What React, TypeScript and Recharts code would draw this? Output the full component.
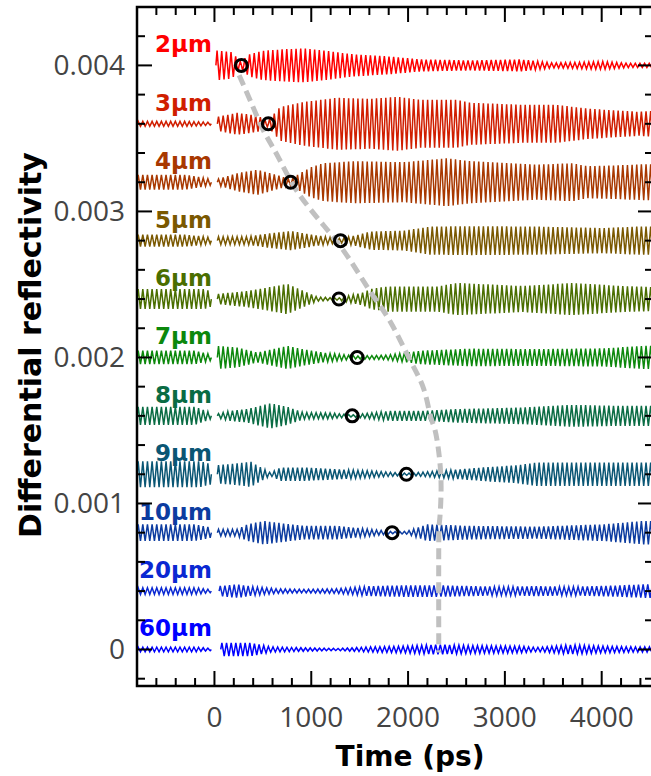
import React from 'react';
import { ComposedChart, Line, Scatter, XAxis, YAxis, ReferenceArea } from 'recharts';

// oscillation period of the Brillouin signal (ps)
const PERIOD = 48;
// envelope amplitudes below are in units of 1e-5
const AMP_UNIT = 1e-5;

const thicknesses = ['2µm', '3µm', '4µm', '5µm', '6µm', '7µm', '8µm', '9µm', '10µm', '20µm', '60µm'];
const offsets = [0.004, 0.0036, 0.0032, 0.0028, 0.0024, 0.002, 0.0016, 0.0012, 0.0008, 0.0004, 0];
const colors = ['#ff0000', '#d01e00', '#a83800', '#7a5800', '#4a6e00', '#0c880c', '#0a6c44', '#0a5674', '#0c3ca0', '#0a28d2', '#0000ff'];

// [time ps, amplitude] envelope before t=0 (empty = trace starts at 0)
const preEnvelopes: number[][][] = [
  [],
  [[-800, 1.7], [-300, 1.7], [-100, 1.2], [-30, 0.8]],
  [[-800, 5.1], [-300, 5.1], [-150, 3.4], [-30, 2]],
  [[-800, 4.1], [-300, 4.1], [-100, 2.7], [-30, 2]],
  [[-800, 6.8], [-100, 6.8], [-30, 5]],
  [[-800, 4.6], [-200, 4.6], [-30, 2]],
  [[-800, 6.2], [-200, 6.2], [-30, 2]],
  [[-800, 8.9], [-150, 8.9], [-30, 6.8]],
  [[-800, 5.7], [-200, 5.7], [-30, 3.4]],
  [[-800, 2.3], [-200, 2.3], [-30, 1]],
  [[-800, 1.6], [-200, 1.6], [-30, 0.8]],
];

// [time ps, amplitude] envelope after t=0
const postEnvelopes: number[][][] = [
  [[15, 10.3], [180, 9], [270, 2.5], [360, 7.5], [500, 10], [700, 11], [925, 11.6], [1200, 9.6], [1440, 7.5], [1784, 6.2], [2130, 4.1], [2643, 3.4], [3160, 4.1], [3500, 1.7], [4018, 2.7], [4290, 1.4], [4530, 1.4]],
  [[30, 4.8], [237, 7.5], [445, 5.5], [550, 2], [680, 11.6], [925, 15], [1268, 17.8], [1612, 17.1], [1887, 18.5], [2130, 16.4], [2505, 16.4], [2643, 14.4], [3190, 13], [3530, 13], [3870, 10.3], [4385, 8.2], [4530, 8.9]],
  [[30, 2], [237, 6.2], [445, 8.6], [650, 4.8], [780, 2], [994, 10.3], [1130, 13], [1440, 14.4], [1956, 13.7], [2300, 15.8], [2400, 16.4], [2643, 14.4], [3331, 12], [3700, 13], [3846, 11], [4190, 11.6], [4430, 12.3], [4530, 12.3]],
  [[30, 2.7], [340, 2.7], [581, 5.1], [787, 6.6], [1027, 3.8], [1300, 1.4], [1474, 3.8], [1612, 6.2], [1956, 6.8], [2230, 9.6], [2643, 9.9], [3331, 9.6], [4018, 8.6], [4362, 9.6], [4530, 9.6]],
  [[30, 3.4], [340, 5.5], [577, 8.2], [752, 10.3], [920, 5.5], [1060, 1.4], [1280, 0.7], [1536, 4.5], [1612, 6.8], [1784, 8.6], [2300, 8.6], [2505, 11], [3186, 8.9], [3700, 11], [4216, 8.9], [4530, 8.2]],
  [[30, 7.9], [237, 6.8], [445, 3.4], [753, 7.9], [925, 5.5], [1130, 3.2], [1474, 1], [1784, 1.6], [2130, 4.6], [2643, 6], [3331, 5.7], [4018, 6.2], [4430, 7.9], [4530, 7.9]],
  [[30, 1.4], [165, 3.4], [340, 4.6], [577, 8.6], [752, 6.2], [918, 2.3], [1196, 2], [1420, 0.7], [1815, 3.4], [2155, 3.4], [2505, 4.6], [3186, 5.7], [3700, 7.5], [4216, 6.8], [4530, 6.8]],
  [[30, 6.2], [237, 7.5], [375, 8.6], [512, 3.4], [581, 1], [684, 4.6], [925, 4.6], [1268, 3.4], [1612, 2.3], [1985, 0.7], [2130, 1.4], [2470, 3], [2845, 5], [3100, 6], [3331, 8], [3846, 8], [4530, 8]],
  [[30, 2.3], [237, 2.3], [340, 5.7], [512, 8], [650, 6.8], [925, 4.6], [1268, 4.6], [1612, 2.3], [1840, 0.7], [1990, 1], [2200, 5.7], [2643, 4.6], [3331, 4.1], [4018, 5.7], [4430, 8], [4530, 8]],
  [[48, 3.4], [237, 4.6], [410, 2.9], [650, 1.6], [925, 1.2], [1268, 1.6], [1612, 3.4], [1956, 3.9], [2300, 3.9], [2643, 3.4], [2987, 2.9], [3331, 3.4], [3675, 2.9], [4190, 3.9], [4430, 4.6], [4530, 4.6]],
  [[65, 4.6], [375, 4.6], [581, 1.8], [925, 1.2], [1268, 0.7], [1612, 1.8], [1956, 2.3], [2300, 3.4], [2643, 2.7], [3160, 2.3], [3331, 1.4], [3675, 3.2], [4018, 2.3], [4362, 1.8], [4530, 1.8]],
];

// echo positions marked with circles (2µm .. 10µm)
const echoTimes = [278, 557, 787, 1302, 1286, 1474, 1423, 1983, 1835];

// grey dashed guide
const guideTimes = [255, 392, 512, 667, 856, 1131, 1371, 1612, 1818, 2024, 2162, 2230, 2276, 2317, 2341, 2327, 2317, 2317];
const guideValues = [0.003933, 0.003725, 0.003547, 0.003362, 0.003136, 0.002902, 0.002696, 0.002449, 0.002243, 0.001978, 0.001784, 0.001601, 0.001509, 0.001352, 0.00112, 0.000892, 0.00072, -0.00002];

const xTicks = [-600, -400, -200, 0, 200, 400, 600, 800, 1000, 1200, 1400, 1600, 1800, 2000, 2200, 2400, 2600, 2800, 3000, 3200, 3400, 3600, 3800, 4000, 4200, 4400];
const yTicks = [-0.0002, 0, 0.0002, 0.0004, 0.0006, 0.0008, 0.001, 0.0012, 0.0014, 0.0016, 0.0018, 0.002, 0.0022, 0.0024, 0.0026, 0.0028, 0.003, 0.0032, 0.0034, 0.0036, 0.0038, 0.004, 0.0042];

const X_DOMAIN = [-800, 4530];
const Y_DOMAIN = [-0.00025, 0.0044];

// plot box size in px, used to mirror ticks on the top / right frame
const PLOT_W = 516;
const PLOT_H = 679;

function envAt(env: number[][], t: number) {
  for (let i = 0; i < env.length - 1; i++) {
    const [t0, a0] = env[i];
    const [t1, a1] = env[i + 1];
    if (t >= t0 && t <= t1) return a0 + ((a1 - a0) * (t - t0)) / (t1 - t0);
  }
  return env[env.length - 1][1];
}

function buildTrace(offset: number, pre: number[][], post: number[][]) {
  const pts: { t: number; v: number | null }[] = [];
  const carrier = [0, 1, 0, -1];
  const addSeg = (env: number[][]) => {
    const t0 = env[0][0];
    const t1 = env[env.length - 1][0];
    let k = 0;
    for (let t = t0; t <= t1 + 1e-6; t += PERIOD / 4, k++) {
      pts.push({ t, v: offset + carrier[k % 4] * envAt(env, t) * AMP_UNIT });
    }
  };
  if (pre.length) {
    addSeg(pre);
    pts.push({ t: 0, v: null });
  }
  addSeg(post);
  return pts;
}

const traces = offsets.map((o, i) => buildTrace(o, preEnvelopes[i], postEnvelopes[i]));
const echoes = echoTimes.map((t, i) => ({ t, v: offsets[i] }));
const guide = guideTimes.map((t, i) => ({ t, v: guideValues[i] }));
const labels = thicknesses.map((name, i) => ({ t: -25, v: offsets[i], name, color: colors[i] }));

const isMajorY = (v: number) => Math.abs(v * 1000 - Math.round(v * 1000)) < 1e-6;

const BottomTick = (props: any) => {
  const { x, y, payload } = props;
  const major = payload.value % 1000 === 0;
  const len = major ? 15 : 8;
  return (
    <g>
      <line x1={x} x2={x} y1={y} y2={y - len} stroke="#000" strokeWidth={2} />
      <line x1={x} x2={x} y1={y - PLOT_H} y2={y - PLOT_H + len} stroke="#000" strokeWidth={2} />
      {major && (
        <text x={x} y={y + 41} textAnchor="middle" fontSize={28} fill="#444" fontFamily="'Open Sans', sans-serif">
          {payload.value}
        </text>
      )}
    </g>
  );
};

const LeftTick = (props: any) => {
  const { x, y, payload } = props;
  const major = isMajorY(payload.value);
  const len = major ? 15 : 8;
  return (
    <g>
      <line x1={x} x2={x + len} y1={y} y2={y} stroke="#000" strokeWidth={2} />
      <line x1={x + PLOT_W} x2={x + PLOT_W - len} y1={y} y2={y} stroke="#000" strokeWidth={2} />
      {major && (
        <text x={x - 12} y={y + 10} textAnchor="end" fontSize={28} fill="#444" fontFamily="'Open Sans', sans-serif">
          {payload.value === 0 ? '0' : payload.value.toFixed(3)}
        </text>
      )}
    </g>
  );
};

const EchoCircle = (props: any) => (
  <circle cx={props.cx} cy={props.cy} r={6} fill="none" stroke="#000" strokeWidth={3} />
);

const TraceLabel = (props: any) => (
  <text
    x={props.cx}
    y={props.cy - 13}
    textAnchor="end"
    fontSize={23}
    fontWeight="bold"
    fill={props.payload.color}
    fontFamily="'DejaVu Sans', sans-serif"
  >
    {props.payload.name}
  </text>
);

export default function App() {
  return (
    <div style={{ position: 'absolute', left: 0, top: 0, width: 651, height: 776, overflow: 'hidden', background: '#fff' }}>
      <ComposedChart width={653} height={776} margin={{ top: 7, right: 0, bottom: 0, left: 0 }}>
        <ReferenceArea
          x1={X_DOMAIN[0]}
          x2={X_DOMAIN[1]}
          y1={Y_DOMAIN[0]}
          y2={Y_DOMAIN[1]}
          fill="none"
          stroke="#000"
          strokeWidth={2.5}
          ifOverflow="visible"
        />
        <XAxis
          dataKey="t"
          type="number"
          domain={X_DOMAIN}
          allowDataOverflow
          ticks={xTicks}
          interval={0}
          height={90}
          tickSize={0}
          tickMargin={0}
          tickLine={false}
          axisLine={{ stroke: '#000', strokeWidth: 2 }}
          tick={<BottomTick />}
        />
        <YAxis
          type="number"
          domain={Y_DOMAIN}
          allowDataOverflow
          ticks={yTicks}
          interval={0}
          width={137}
          tickSize={0}
          tickMargin={0}
          tickLine={false}
          axisLine={{ stroke: '#000', strokeWidth: 2 }}
          tick={<LeftTick />}
        />
        {traces.map((d, i) => (
          <Line
            key={thicknesses[i]}
            data={d}
            dataKey="v"
            type="linear"
            stroke={colors[i]}
            strokeWidth={1.5}
            dot={false}
            activeDot={false}
            connectNulls={false}
            isAnimationActive={false}
          />
        ))}
        <Line
          data={guide}
          dataKey="v"
          type="natural"
          stroke="#c0c0c0"
          strokeWidth={5}
          strokeDasharray="11 6"
          dot={false}
          activeDot={false}
          isAnimationActive={false}
        />
        <Scatter data={echoes} dataKey="v" shape={<EchoCircle />} isAnimationActive={false} />
        <Scatter data={labels} dataKey="v" shape={<TraceLabel />} isAnimationActive={false} />
      </ComposedChart>
      <div
        style={{
          position: 'absolute',
          left: 30,
          top: 345,
          transform: 'translate(-50%, -50%) rotate(-90deg)',
          whiteSpace: 'nowrap',
          fontFamily: "'DejaVu Sans', sans-serif",
          fontWeight: 'bold',
          fontSize: 30,
          color: '#000',
        }}
      >
        Differential reflectivity
      </div>
      <div
        style={{
          position: 'absolute',
          left: 410,
          top: 756,
          transform: 'translate(-50%, -50%)',
          whiteSpace: 'nowrap',
          fontFamily: "'DejaVu Sans', sans-serif",
          fontWeight: 'bold',
          fontSize: 28,
          color: '#000',
        }}
      >
        Time (ps)
      </div>
    </div>
  );
}
